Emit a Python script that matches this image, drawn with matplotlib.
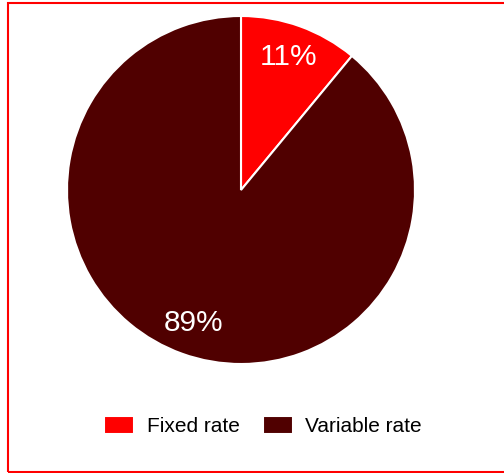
import matplotlib.pyplot as plt
from matplotlib.patches import Rectangle

labels = ["Fixed rate", "Variable rate"]
shares = [11, 89]
colors = ["#FF0000", "#500000"]

plt.rcParams['font.family'] = ['Liberation Sans', 'DejaVu Sans']

W, H = 504, 473
fig = plt.figure(figsize=(W / 100, H / 100), dpi=100)

# pie area: centre (241, 190), radius 174 px
cx, cy, r = 241, 190, 174
ax = fig.add_axes([(cx - r) / W, 1 - (cy + r) / H, 2 * r / W, 2 * r / H])
wedges, texts = ax.pie(shares, colors=colors, startangle=90, counterclock=False,
                       labels=[f"{s}%" for s in shares], labeldistance=0.81,
                       wedgeprops=dict(edgecolor="white", linewidth=1.5),
                       textprops=dict(color="white", fontsize=21.5))
for t in texts:
    t.set_ha("center")
    t.set_va("center")
ax.set_aspect("equal")
ax.set_xlim(-1, 1)
ax.set_ylim(-1, 1)

fig.legend(wedges, labels, loc="center", bbox_to_anchor=(263 / W, 1 - 426 / H),
           ncol=2, frameon=False, fontsize=15, handlelength=1.45, handleheight=0.95,
           handletextpad=0.6, columnspacing=1.1)

# red outer border (right side runs off the image)
fig.patches.append(Rectangle((7.5 / W, 1.5 / H), 1.0, 468 / H,
                             transform=fig.transFigure, fill=False,
                             edgecolor="#FF0000", linewidth=1.5))

fig.savefig("out.png", dpi=100)
